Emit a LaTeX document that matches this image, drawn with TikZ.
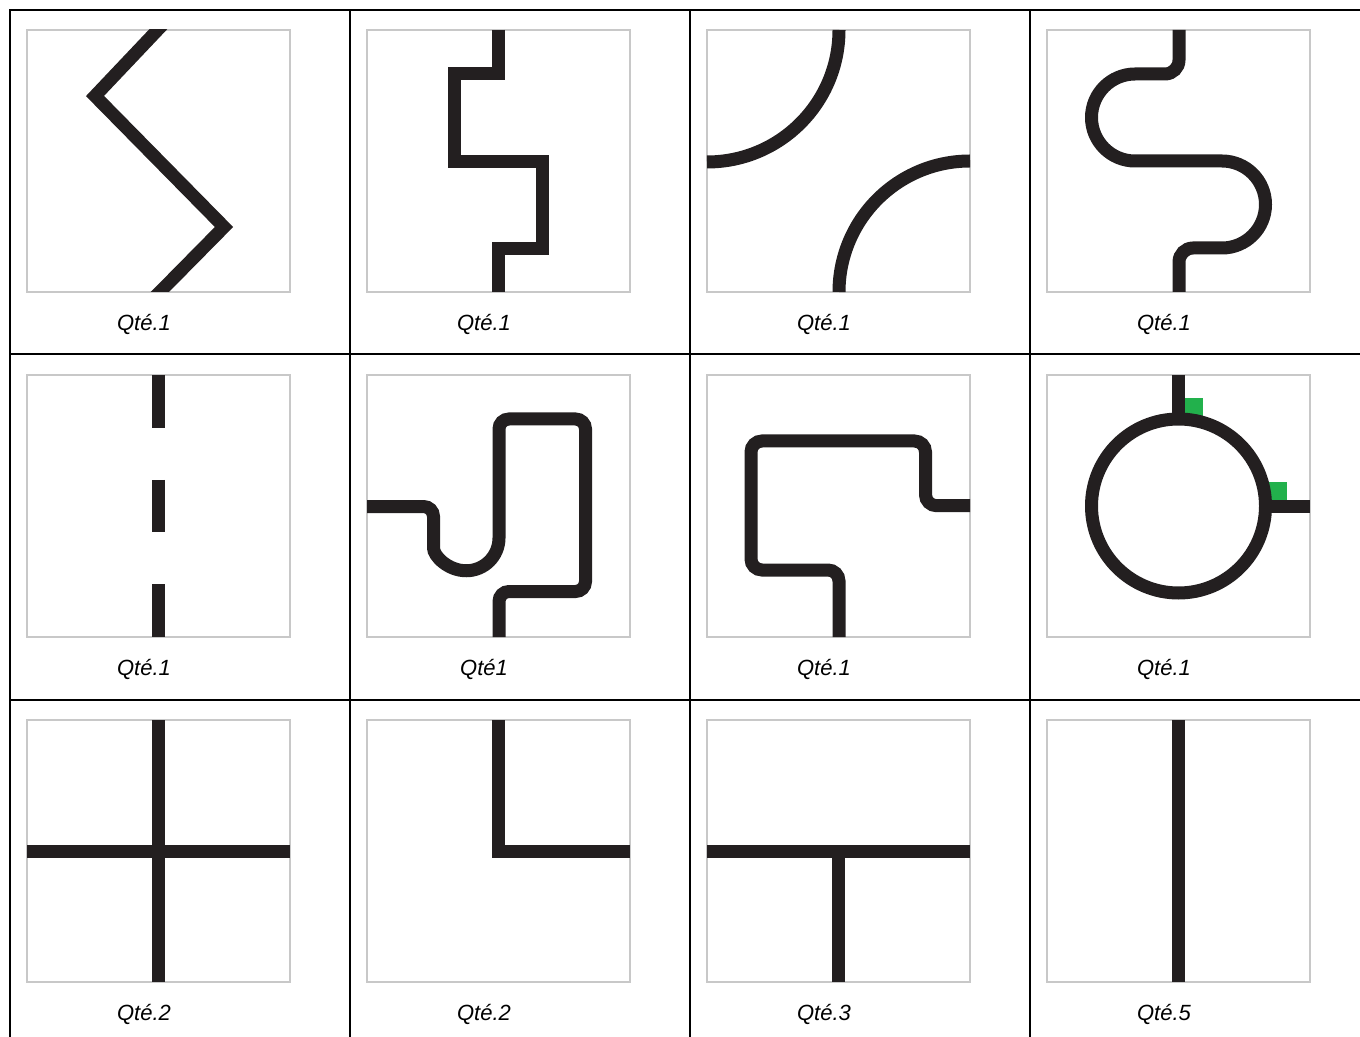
\documentclass[tikz,border=0pt]{standalone}
\usepackage{fontspec}
\setmainfont{Liberation Sans}
\definecolor{ink}{RGB}{35,31,32}
\definecolor{boxgray}{RGB}{200,200,200}
\definecolor{tabgreen}{RGB}{34,177,76}

\begin{document}
\begin{tikzpicture}[x=0.5pt, y=-0.5pt, tile/.style={draw=boxgray, line width=0.8pt}, track/.style={draw=ink, line width=6.5pt}, grid/.style={draw=black, line width=1pt}, qty/.style={font=\fontsize{11}{13}\selectfont\itshape, inner sep=0pt}]
\useasboundingbox (0,0) rectangle (1360,1037);
\foreach \c in {0,...,3} \foreach \r in {0,1,2} \draw[tile] (27+340*\c,30+345*\r) rectangle ++(263,262);
\foreach \c/\r/\t [count=\i] in {0/0/Qté.1, 1/0/Qté.1, 2/0/Qté.1, 3/0/Qté.1, 0/1/Qté.1, 1/1/Qté1, 2/1/Qté.1, 3/1/Qté.1, 0/2/Qté.2, 1/2/Qté.2, 2/2/Qté.3, 3/2/Qté.5}
  \node[qty] (q\i) at (144+340*\c,324+345*\r) {\t};
\begin{scope}
\clip (27,30) rectangle ++(263,262);
\draw[track] (167.5,19.5) -- (95,96) -- (224,227) -- (150,302);
\end{scope}
\draw[track] (498,30) -- (498,74) -- (454,74) -- (454,161.5) -- (542,161.5) -- (542,248.5) -- (498,248.5) -- (498,292);
\draw[track] (839,30) arc[start angle=0, end angle=90, radius=132];
\draw[track] (839,292) arc[start angle=180, end angle=270, radius=131];
\draw[track] (1179,30) -- (1179,60) arc[start angle=0, end angle=90, radius=14] -- (1135,74) arc[start angle=-90, end angle=-270, radius=43.5] -- (1222,161) arc[start angle=-90, end angle=90, radius=43.5] -- (1193,248) arc[start angle=-90, end angle=-180, radius=14] -- (1179,292);
\foreach \a/\b in {375/428, 480/532, 584/637} \draw[track] (158.5,\a) -- (158.5,\b);
\draw[track, rounded corners=5pt] (367,506.5) -- (433.5,506.5) -- (433.5,538) [sharp corners] arc[start angle=180, end angle=0, radius=32.75] [rounded corners=5pt] -- (499,419) -- (585.5,419) -- (585.5,591.5) -- (499,591.5) -- (499,637);
\draw[track, rounded corners=5.5pt] (839,637) -- (839,570) -- (751,570) -- (751,441) -- (925.5,441) -- (925.5,505.7) -- (970,505.7);
\fill[tabgreen] (1185,398) rectangle (1203,416);
\fill[tabgreen] (1268,482.5) rectangle (1286.5,500);
\draw[track] (1178.5,506) circle[radius=87];
\draw[track] (1178.5,375) -- (1178.5,419);
\draw[track] (1265.5,506) -- (1310,506);
\draw[track] (158.5,720) -- (158.5,982) (27,851) -- (290,851);
\draw[track] (498.5,720) -- (498.5,851) -- (630,851);
\draw[track] (707,851) -- (970,851) (838.5,851) -- (838.5,982);
\draw[track] (1178.5,720) -- (1178.5,982);
\draw[grid] (1360,10) -- (10,10) -- (10,1037);
\draw[grid] (10,354) -- (1360,354) (10,699.5) -- (1360,699.5);
\foreach \x in {350,690,1030} \draw[grid] (\x,10) -- (\x,1037);
\end{tikzpicture}
\end{document}
